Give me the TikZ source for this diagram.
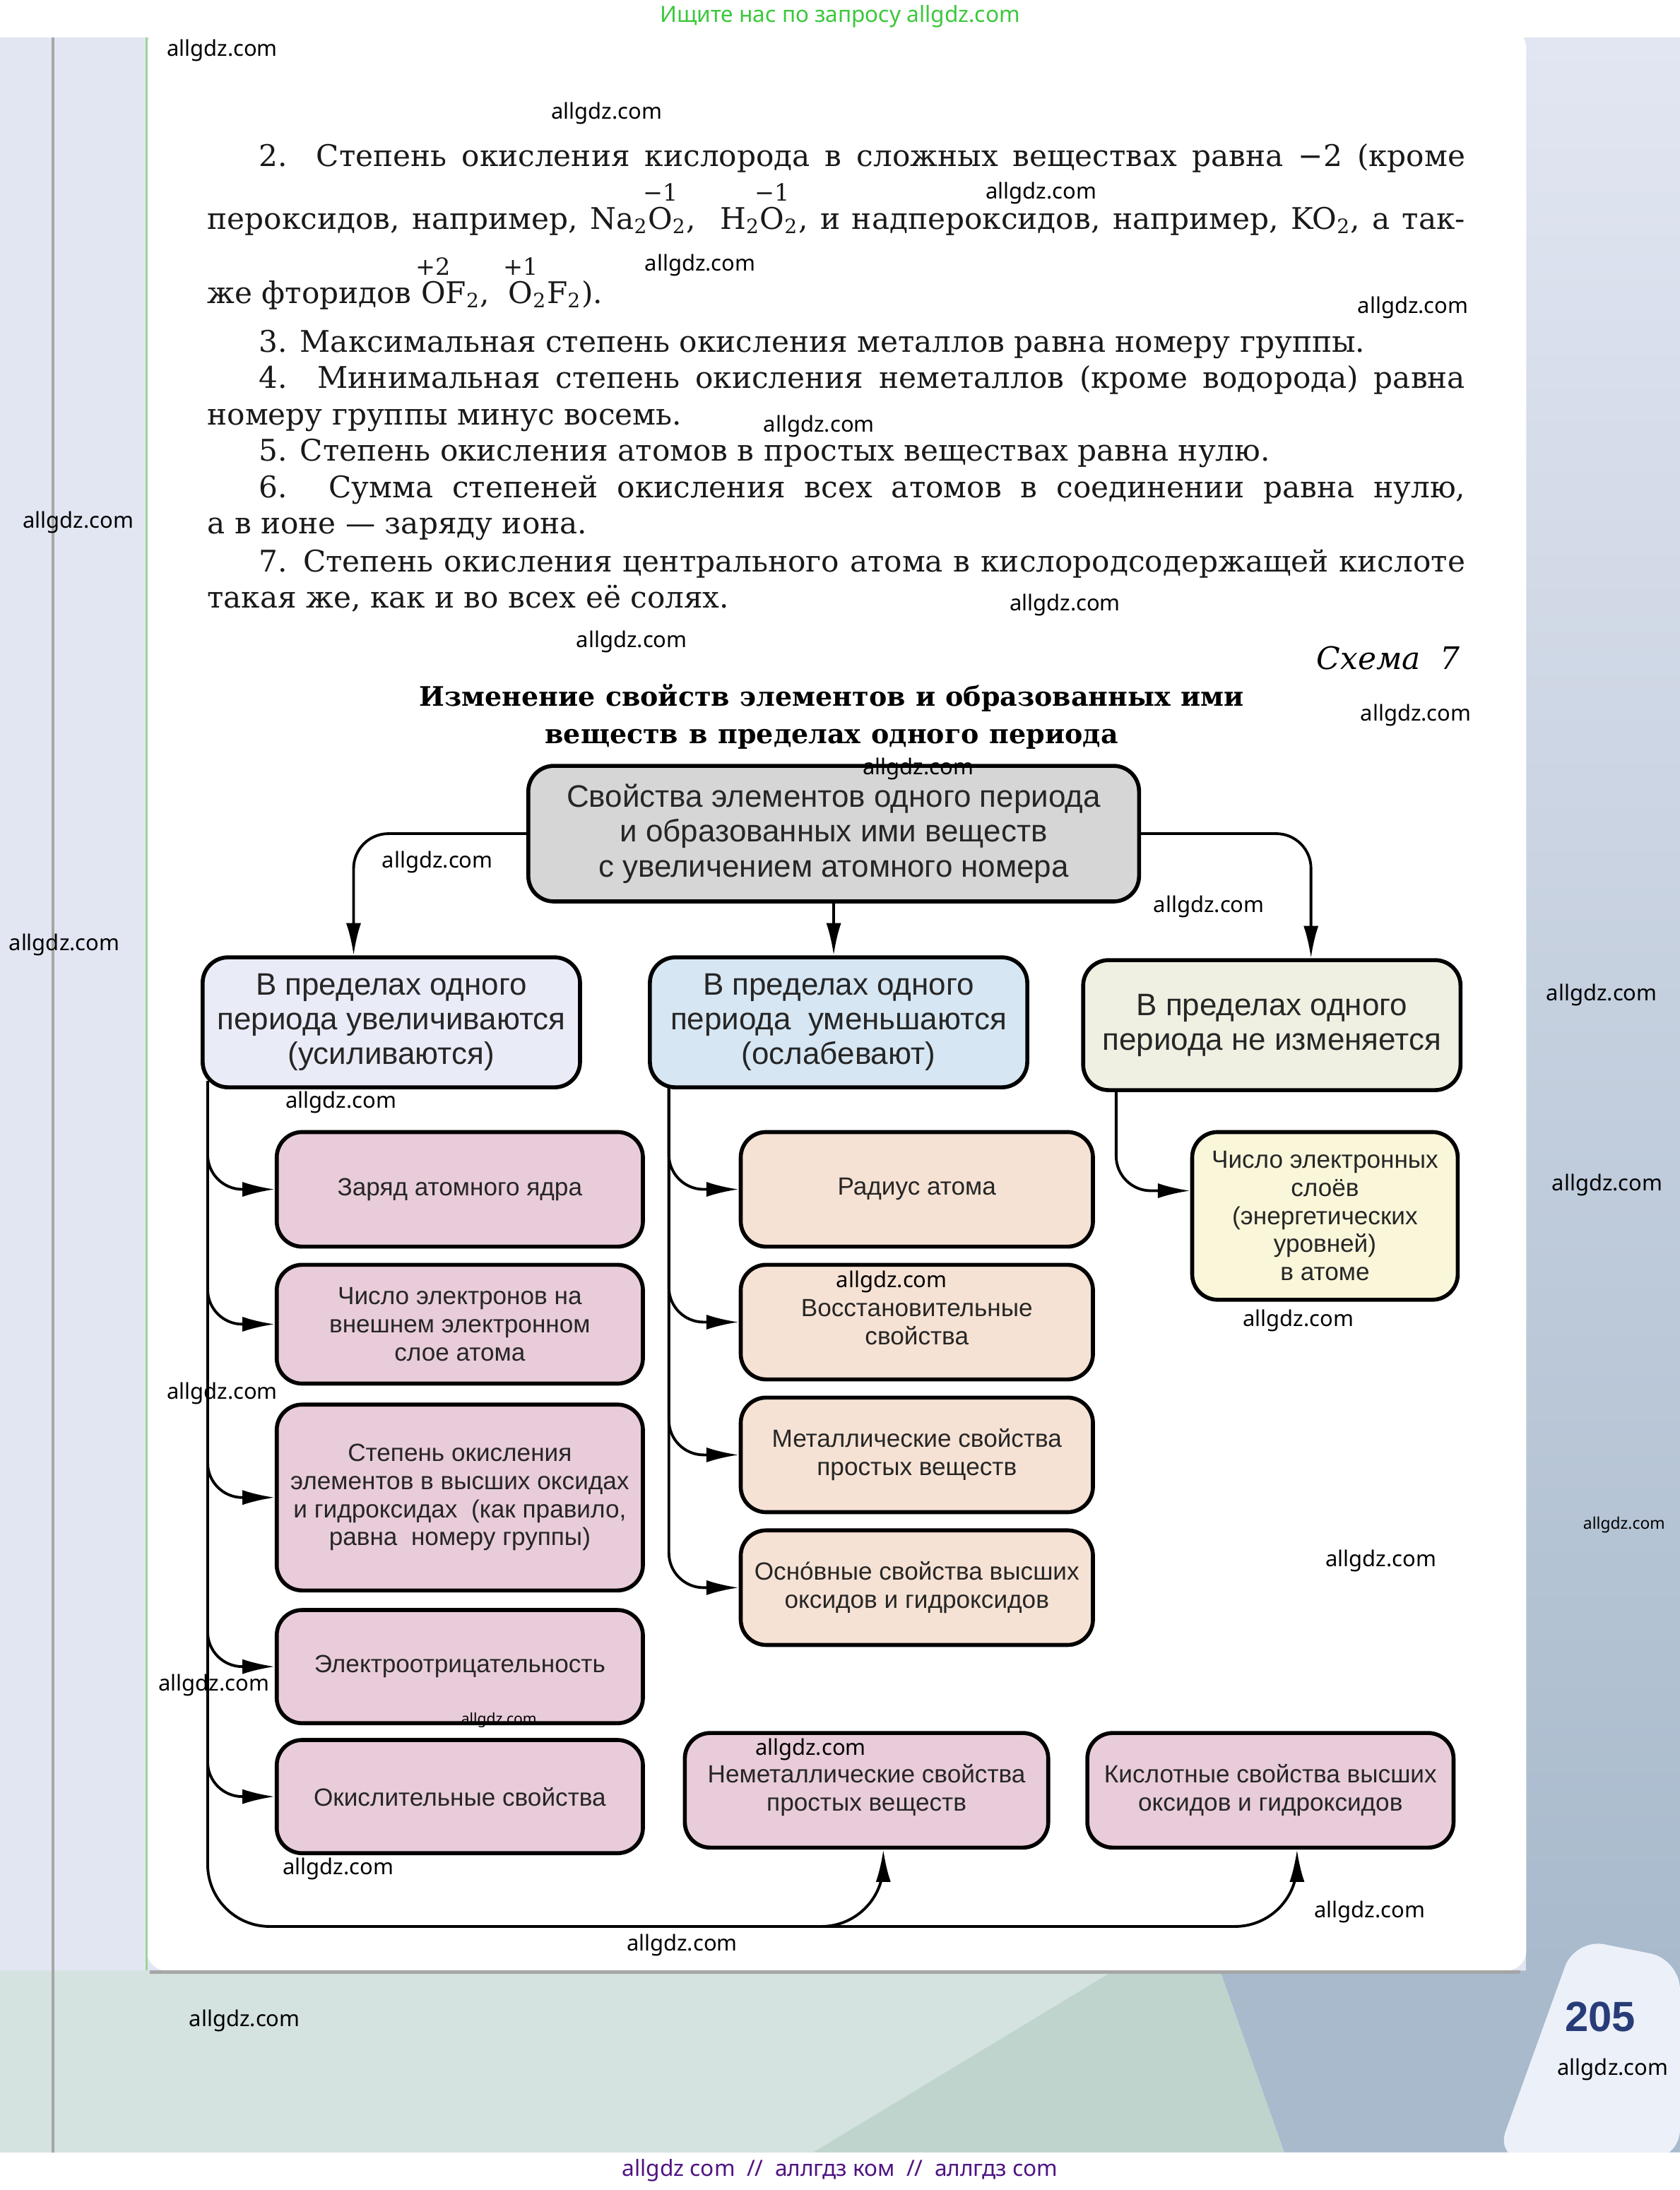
\documentclass[tikz,border=0pt]{standalone}
\usepackage{fontspec}
\setmainfont{DejaVu Serif}
\newfontfamily\dsans{Liberation Sans}
\newfontfamily\wm{Noto Sans}
\usetikzlibrary{arrows.meta,calc}
\definecolor{lav}{RGB}{226,230,242}
\definecolor{mintL}{RGB}{212,226,224}
\definecolor{mintM}{RGB}{190,212,205}
\definecolor{blueg}{RGB}{168,186,204}
\definecolor{cardc}{RGB}{236,240,248}
\definecolor{topg}{RGB}{214,214,214}
\definecolor{lavbox}{RGB}{233,235,247}
\definecolor{bluebox}{RGB}{214,230,242}
\definecolor{creambox}{RGB}{239,240,226}
\definecolor{pinkbox}{RGB}{233,204,218}
\definecolor{peachbox}{RGB}{246,226,212}
\definecolor{yelbox}{RGB}{250,246,218}
\definecolor{wgreen}{RGB}{60,200,60}
\definecolor{wpurple}{RGB}{80,20,130}
\definecolor{pnum}{RGB}{40,60,120}
\newcommand\oxn[2]{\setbox0\hbox{#2}\rlap{\hbox to \wd0{\hss\raisebox{0.95em}[0pt][0pt]{\fontsize{9.5}{9.5}\selectfont #1}\hss}}\box0}
\newcommand\bx[8]{\node[box,#8,fill=#6,minimum width={(#4-#2)*0.019775cm},minimum height={(#5-#3)*0.019783cm}] (#1) at ({(#2+#4)/2},{(#3+#5)/2}) {#7};}
\begin{document}
\begin{tikzpicture}[x=0.019775cm,y=-0.019783cm,
 box/.style={draw,line width=1.6pt,rounded corners=0.36cm,align=center,inner sep=0pt,text=black!85},
 big/.style={font=\dsans\fontsize{12.5}{14}\selectfont},
 small/.style={font=\dsans\fontsize{10}{11.3}\selectfont},
 conn/.style={line width=1.1pt,-{Latex[length=13pt,width=6pt]},rounded corners=14},
 wmk/.style={font=\wm\fontsize{8.8}{10}\selectfont,text=black,inner sep=0pt},
 ptext/.style={anchor=base west,inner sep=0pt,font=\fontsize{12}{14}\selectfont,text=black!90},
]
\useasboundingbox (0,0) rectangle (1202,1567);
% ---------- background ----------
\fill[lav] (0,27) rectangle (1202,1540);
\fill[mintL] (0,1410) -- (797,1410) -- (582,1540) -- (0,1540) -- cycle;
\fill[mintM] (797,1410) -- (873,1410) -- (919,1540) -- (582,1540) -- cycle;
\fill[blueg] (873,1410) -- (1202,1410) -- (1202,1540) -- (919,1540) -- cycle;
\shade[top color=lav,bottom color=blueg] (1092,27) rectangle (1202,1410);
\fill[cardc,rounded corners=12] (1070,1545) -- (1127,1387) -- (1202,1402) -- (1202,1545) -- cycle;
\draw[black!35,line width=1pt] (38,27) -- (38,1540);
\fill[white,rounded corners=8] (105,20) rectangle (1092,1410);
\draw[black!40!green!40,line width=0.8pt] (105,27) -- (105,1410);
\draw[black!35,line width=1.2pt] (107,1411) -- (1088,1411);
\fill[white] (0,0) rectangle (1202,27);
\fill[white] (0,1540) rectangle (1202,1567);
\node[font=\wm\fontsize{9}{10}\selectfont,text=wgreen] (top) at (601,12) {Ищите нас по запросу allgdz.com};
\node[font=\wm\fontsize{9}{10}\selectfont,text=wpurple] (bot) at (601,1553) {allgdz com \ // \ аллгдз ком \ // \ аллгдз com};
\node[font=\dsans\bfseries\fontsize{17}{18}\selectfont,text=pnum] (pn) at (1145,1443) {205};
% ---------- paragraph ----------
\node[ptext] (p1) at (185,119) {\makebox[17.066cm][s]{2. Степень окисления кислорода в сложных веществах равна −2 (кроме}};
\node[ptext] (p2) at (148,164) {\makebox[17.798cm][s]{пероксидов, например, Na\textsubscript{2}\oxn{−1}{O}\textsubscript{2}, \ H\textsubscript{2}\oxn{−1}{O}\textsubscript{2}, и надпероксидов, например, KO\textsubscript{2}, а так-}};
\node[ptext] (p3) at (148,217) {же фторидов \oxn{+2}{O}F\textsubscript{2}, \ \oxn{+1}{O}\textsubscript{2}F\textsubscript{2}).};
\node[ptext] (p4) at (185,252) {3. Максимальная степень окисления металлов равна номеру группы.};
\node[ptext] (p5) at (185,278) {\makebox[17.066cm][s]{4. Минимальная степень окисления неметаллов (кроме водорода) равна}};
\node[ptext] (p6) at (148,304) {номеру группы минус восемь.};
\node[ptext] (p7) at (185,330) {5. Степень окисления атомов в простых веществах равна нулю.};
\node[ptext] (p8) at (185,356) {\makebox[17.066cm][s]{6. Сумма степеней окисления всех атомов в соединении равна нулю,}};
\node[ptext] (p9) at (148,382) {а в ионе — заряду иона.};
\node[ptext] (p10) at (185,409) {\makebox[17.066cm][s]{7. Степень окисления центрального атома в кислородсодержащей кислоте}};
\node[ptext] (p11) at (148,435) {такая же, как и во всех её солях.};
\node[anchor=base east,inner sep=0pt,font=\itshape\fontsize{12.5}{14}\selectfont] (sch) at (1045,479) {Схема \ 7};
\node[anchor=base,inner sep=0pt,font=\bfseries\fontsize{10.8}{13}\selectfont] (t1) at (595,505) {\makebox[11.667cm][s]{Изменение свойств элементов и образованных ими}};
\node[anchor=base,inner sep=0pt,font=\bfseries\fontsize{10.8}{13}\selectfont] (t2) at (595,532) {\makebox[8.108cm][s]{веществ в пределах одного периода}};
% ---------- boxes ----------
\bx{T}{378}{548}{815}{645}{topg}{Свойства элементов одного периода\\и образованных ими веществ\\с увеличением атомного номера}{big}
\bx{A}{145}{685}{415}{778}{lavbox}{В пределах одного\\периода увеличиваются\\(усиливаются)}{big}
\bx{B}{465}{685}{735}{778}{bluebox}{В пределах одного\\периода \ уменьшаются\\(ослабевают)}{big}
\bx{C}{775}{687}{1045}{780}{creambox}{В пределах одного\\периода не изменяется}{big}
\bx{L1}{198}{810}{460}{892}{pinkbox}{Заряд атомного ядра}{small}
\bx{L2}{198}{905}{460}{990}{pinkbox}{Число электронов на\\внешнем электронном\\слое атома}{small}
\bx{L3}{198}{1005}{460}{1138}{pinkbox}{Степень окисления\\элементов в высших оксидах\\и гидроксидах \ (как правило,\\равна \ номеру группы)}{small}
\bx{L4}{198}{1152}{460}{1233}{pinkbox}{Электроотрицательность}{small}
\bx{L5}{198}{1245}{460}{1326}{pinkbox}{Окислительные свойства}{small}
\bx{M1}{530}{810}{782}{892}{peachbox}{Радиус атома}{small}
\bx{M2}{530}{905}{782}{987}{peachbox}{Восстановительные\\свойства}{small}
\bx{M3}{530}{1000}{782}{1082}{peachbox}{Металлические свойства\\простых веществ}{small}
\bx{M4}{530}{1095}{782}{1177}{peachbox}{Осно́вные свойства высших\\оксидов и гидроксидов}{small}
\bx{R}{853}{810}{1043}{930}{yelbox}{Число электронных\\слоёв\\(энергетических\\уровней)\\в атоме}{small}
\bx{N}{490}{1240}{750}{1322}{pinkbox}{Неметаллические свойства\\простых веществ}{small}
\bx{K}{778}{1240}{1040}{1322}{pinkbox}{Кислотные свойства высших\\оксидов и гидроксидов}{small}
% ---------- connectors ----------
\draw[conn] (T.west) -| ($(A.north)+(-27,0)$);
\draw[conn] (T.south) -- (T.south |- B.north);
\draw[conn] (T.east) -| ($(C.north)+(28,0)$);
\coordinate (tA) at ($(A.south west)+(5,-6)$);
\coordinate (tB) at ($(B.south west)+(15,-1)$);
\coordinate (tC) at ($(C.south west)+(25,-1)$);
\foreach \b in {L1,L2,L3,L4,L5} {\draw[conn] (tA) |- (\b.west);}
\foreach \b in {M1,M2,M3,M4} {\draw[conn] (tB) |- (\b.west);}
\draw[conn] (tC) |- ($(R.west)+(0,-18)$);
\draw[conn,rounded corners=25] (tA) |- ($(N.south)+(12,55)$) -- ($(N.south)+(12,0)$);
\draw[conn,rounded corners=25] ($(N.south)+(-30,55)$) -| ($(K.south)+(19,0)$);
% ---------- watermarks ----------
\foreach \x/\y [count=\i] in {159/36,434/81,745/138,501/190,1011/220,586/305,56/374,762/433,452/459,1013/512,657/550,313/617,865/649,46/676,1146/712,244/789,1150/848,638/917,929/945,159/997,988/1117,153/1206,580/1252,242/1337,980/1368,488/1392,175/1446,1154/1481}
  {\node[wmk] (w\i) at (\x,\y) {allgdz.com};}
\node[wmk,font=\wm\fontsize{6.5}{7}\selectfont] (wa) at (1162,1091) {allgdz.com};
\node[wmk,font=\wm\fontsize{6}{7}\selectfont] (wb) at (357,1231) {allgdz.com};
\end{tikzpicture}
\end{document}
